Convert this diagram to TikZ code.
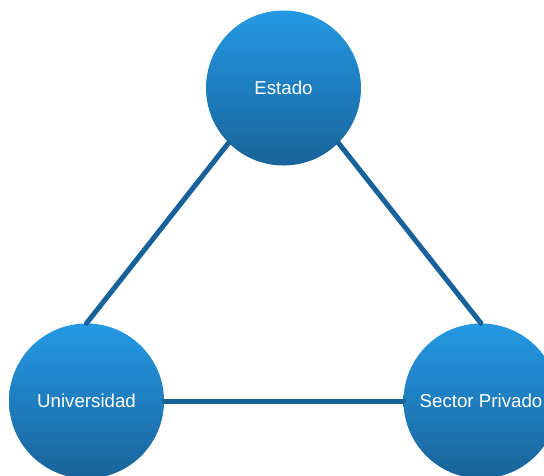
\documentclass[tikz,border=0pt]{standalone}
\usepackage{fontspec}
\setmainfont{Liberation Sans}
\definecolor{topblue}{HTML}{2499E3}
\definecolor{botblue}{HTML}{19639A}
\definecolor{linkblue}{HTML}{17629A}
\begin{document}
\begin{tikzpicture}[x=1pt,y=-1pt,
  actor/.style={circle,minimum size=155pt,inner sep=0pt,top color=topblue,bottom color=botblue,
    text=white,font=\fontsize{18.7}{21}\selectfont},
  link/.style={draw=linkblue,line width=5pt,line cap=round}]
\clip (0,0) rectangle (544,475);
\node[actor] (E) at (283.5,88) {Estado};
\node[actor] (U) at (86.5,401) {Universidad};
\node[actor] (S) at (481,401) {Sector Privado};
\draw[link] (E.225) -- (U.90);
\draw[link] (E.315) -- (S.90);
\draw[link] (U.0) -- (S.180);
\end{tikzpicture}
\end{document}
